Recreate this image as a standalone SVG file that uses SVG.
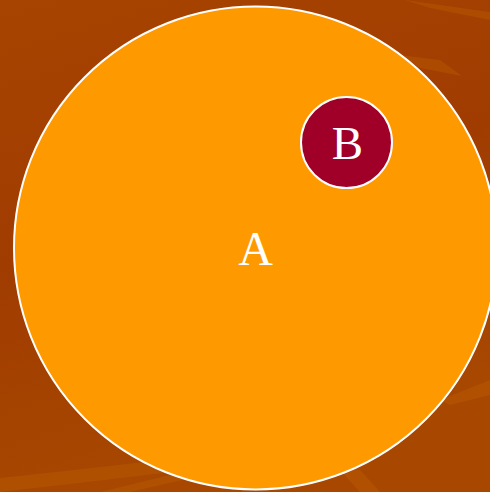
<svg xmlns="http://www.w3.org/2000/svg" width="490" height="492" viewBox="0 0 490 492">
<defs>
<linearGradient id="bg" x1="0" y1="0" x2="0.3" y2="1">
<stop offset="0" stop-color="#A84400"/>
<stop offset="0.5" stop-color="#A03C00"/>
<stop offset="1" stop-color="#A84800"/>
</linearGradient>
</defs>
<style>
.lbl{font-family:"Liberation Serif","Times New Roman",serif;fill:#fff;text-anchor:middle}
.node{stroke:#fff;stroke-width:2}
.streak{fill:#C06000;opacity:0.35}
</style>
<rect width="490" height="492" fill="url(#bg)"/>
<path class="streak" d="M405 0 L490 12 L490 20 L430 8 Z"/>
<path class="streak" d="M400 55 L440 60 L462 76 L420 68 Z" opacity="0.2"/>
<path class="streak" d="M0 478 Q150 462 330 440 L340 450 Q180 472 0 492 Z" opacity="0.25"/>
<path class="streak" d="M100 492 L190 470 L200 476 L130 492 Z" opacity="0.4"/>
<path class="streak" d="M340 470 L360 470 L380 492 L360 492 Z" opacity="0.3"/>
<path class="streak" d="M440 400 L490 380 L490 395 L450 405 Z" opacity="0.3"/>
<g id="A">
<circle class="node" cx="255.5" cy="248" r="241.5" fill="#FF9900"/>
<text class="lbl" x="255.5" y="265" font-size="48">A</text>
</g>
<g id="B">
<circle class="node" cx="346.5" cy="142.5" r="45.5" fill="#A00028"/>
<text class="lbl" x="347.5" y="159" font-size="47">B</text>
</g>
<g id="connectors"/>
</svg>
